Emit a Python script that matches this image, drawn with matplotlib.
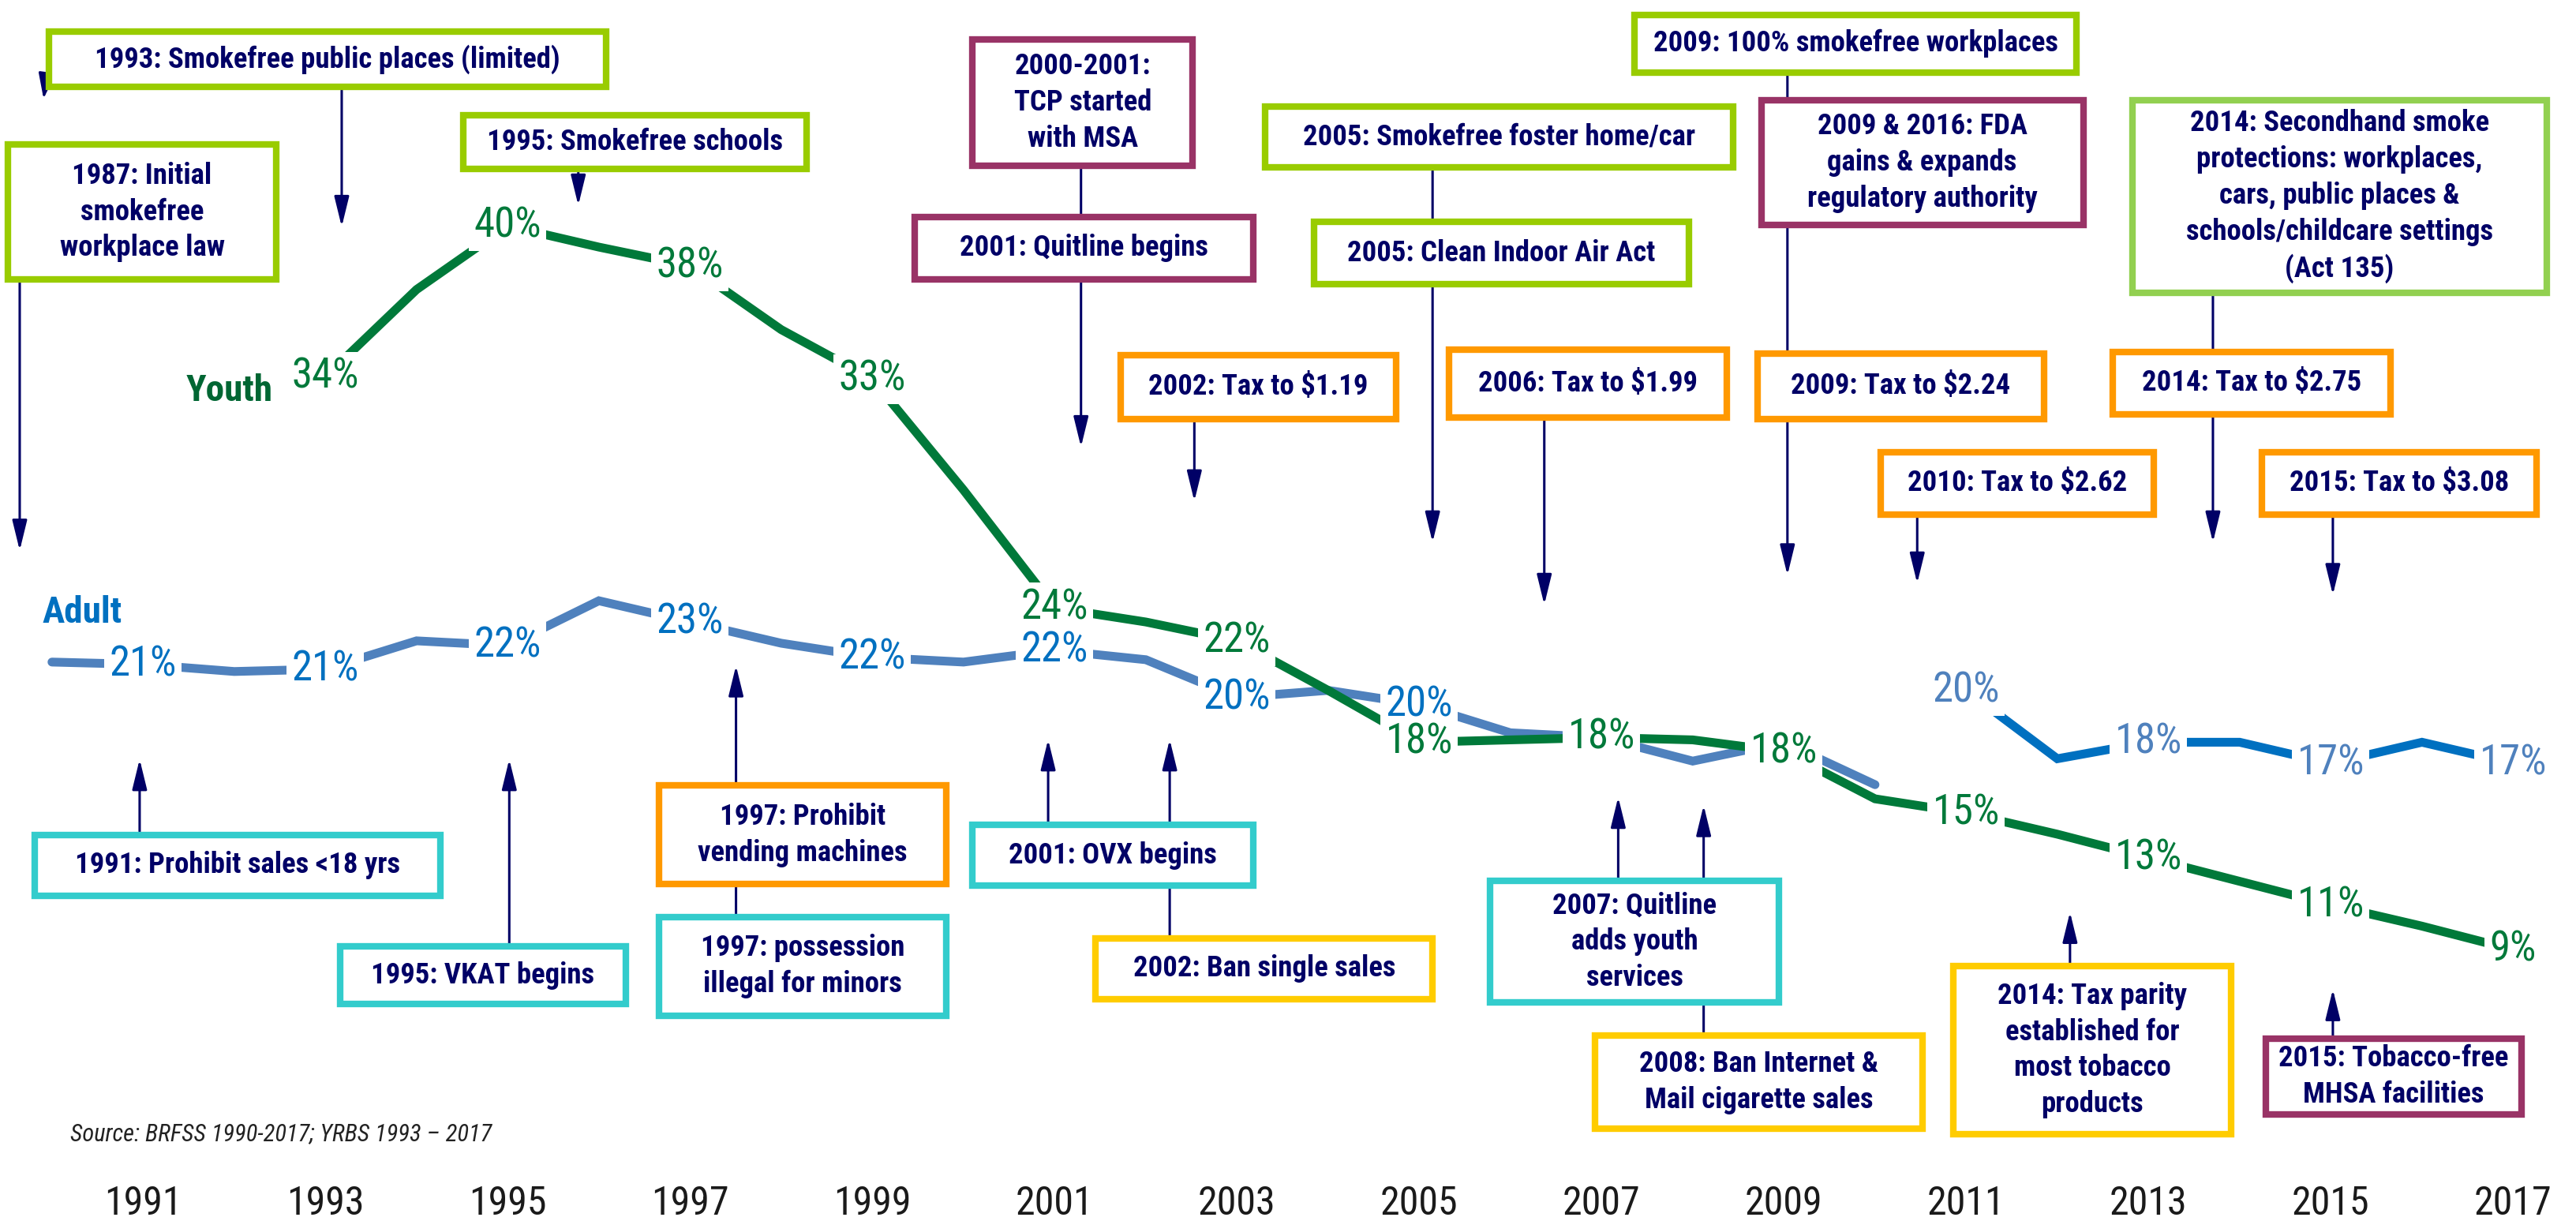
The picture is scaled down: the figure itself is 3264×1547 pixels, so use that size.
import matplotlib.pyplot as plt
from matplotlib.patches import Rectangle

# ---- data (percent of people who smoke) ---------------------------------
adult_years = list(range(1990, 2011))
adult_pct = [21.2, 21.1, 20.8, 20.9, 22.1, 21.9, 23.8, 22.9, 22.0, 21.4,
             21.2, 21.7, 21.3, 19.7, 20.0, 19.4, 18.2, 18.0, 17.0, 17.8, 16.0]
adult_new_years = list(range(2011, 2018))
adult_new_pct = [20.0, 17.1, 17.8, 17.8, 16.9, 17.8, 16.9]
youth_years = list(range(1993, 2018))
youth_pct = [33.3, 37.0, 39.7, 38.8, 38.0, 35.3, 33.2, 28.5, 23.5, 22.9,
             22.1, 20.0, 17.8, 17.9, 18.0, 17.9, 17.4, 15.4, 14.8, 13.9,
             12.9, 11.9, 10.9, 10.0, 9.0]

youth_label_years = list(range(1993, 2018, 2))
youth_labels = ['34%', '40%', '38%', '33%', '24%', '22%', '18%', '18%',
                '18%', '15%', '13%', '11%', '9%']
adult_label_years = list(range(1991, 2006, 2))
adult_labels = ['21%', '21%', '22%', '23%', '22%', '22%', '20%', '20%']
adult_new_label_years = [2011, 2013, 2015, 2017]
adult_new_labels = ['20%', '18%', '17%', '17%']
tick_years = list(range(1991, 2018, 2))

# ---- policy boxes, laid out on the reference's 1568x743 grid -------------
W, H = 1568, 743
boxes = [
    ("1993: Smokefree public places (limited)", 'lime', (28, 17, 371, 55)),
    ("1995: Smokefree schools", 'lime', (280, 68, 493, 105)),
    ("1987: Initial\nsmokefree\nworkplace law", 'lime', (3, 86, 170, 172)),
    ("2000-2001:\nTCP started\nwith MSA", 'plum', (590, 22, 728, 103)),
    ("2001: Quitline begins", 'plum', (555, 130, 765, 172)),
    ("2005: Smokefree foster home/car", 'lime', (768, 63, 1057, 104)),
    ("2005: Clean Indoor Air Act", 'lime', (798, 133, 1030, 175)),
    ("2009: 100% smokefree workplaces", 'lime', (993, 7, 1266, 46)),
    ("2009 & 2016: FDA\ngains & expands\nregulatory authority", 'plum', (1070, 59, 1270, 139)),
    ("2014: Secondhand smoke\nprotections: workplaces,\ncars, public places &\n"
     "schools/childcare settings\n(Act 135)", 'green2', (1296, 59, 1552, 180)),
    (r"2002: Tax to \$1.19", 'orange', (680, 214, 852, 257)),
    (r"2006: Tax to \$1.99", 'orange', (880, 211, 1053, 256)),
    (r"2009: Tax to \$2.24", 'orange', (1068, 213, 1246, 257)),
    (r"2010: Tax to \$2.62", 'orange', (1143, 273, 1313, 315)),
    (r"2014: Tax to \$2.75", 'orange', (1284, 212, 1457, 254)),
    (r"2015: Tax to \$3.08", 'orange', (1375, 273, 1546, 315)),
    ("1991: Prohibit sales <18 yrs", 'cyan', (19, 506, 270, 547)),
    ("1995: VKAT begins", 'cyan', (205, 574, 383, 613)),
    ("1997: Prohibit\nvending machines", 'orange', (399, 476, 578, 540)),
    ("1997: possession\nillegal for minors", 'cyan', (399, 556, 578, 620)),
    ("2001: OVX begins", 'cyan', (590, 500, 765, 541)),
    ("2002: Ban single sales", 'yellow', (665, 569, 874, 610)),
    ("2007: Quitline\nadds youth\nservices", 'cyan', (905, 534, 1085, 612)),
    ("2008: Ban Internet &\nMail cigarette sales", 'yellow', (969, 628, 1172, 689)),
    ("2014: Tax parity\nestablished for\nmost tobacco\nproducts", 'yellow', (1187, 586, 1360, 692)),
    ("2015: Tobacco-free\nMHSA facilities", 'plum', (1377, 630, 1537, 680)),
]
# x, y where the line starts, y of the arrow head
arrows = [
    (208, 55, 138), (352, 105, 125), (12, 172, 335), (658, 103, 272),
    (872, 104, 330), (1088, 46, 350), (1347, 180, 330), (727, 257, 305),
    (940, 256, 368), (1167, 315, 355), (1420, 315, 362),
    (85, 506, 462), (310, 574, 462), (448, 556, 405), (638, 500, 450),
    (712, 569, 450), (985, 534, 485), (1037, 628, 490), (1260, 586, 555),
    (1420, 630, 602),
]

edge_colors = {'lime': '#99CC00', 'green2': '#92D050', 'plum': '#993366',
               'orange': '#FF9900', 'cyan': '#33CCCC', 'yellow': '#FFCC00'}
navy = '#000066'
youth_green = '#00793A'
adult_blue = '#4F81BD'
adult_dark = '#0070C0'

narrow = ['Roboto Condensed', 'Liberation Sans Narrow', 'Roboto', 'DejaVu Sans']
plt.rcParams['font.family'] = narrow

fig = plt.figure(figsize=(32.64, 15.47), dpi=100)
ax = fig.add_axes([0, 0.0368, 1, 0.9632])
ax.set_xlim(1989.43, 2017.69)
ax.set_ylim(-0.6, 49.28)
for s in ax.spines.values():
    s.set_visible(False)
ax.set_yticks([])
ax.set_xticks(tick_years)
ax.set_xticklabels([str(y) for y in tick_years])
ax.tick_params(axis='x', length=0, pad=8, labelsize=36, labelcolor='#1a1a1a')


def fx(x):
    return x / W


def fy(y):
    return 1 - y / H


# lines
ax.plot(adult_years, adult_pct, color=adult_blue, lw=8,
        solid_capstyle='round', solid_joinstyle='miter', zorder=2)
ax.plot(adult_new_years, adult_new_pct, color=adult_dark, lw=8,
        solid_capstyle='butt', solid_joinstyle='miter', zorder=2)
ax.plot(youth_years, youth_pct, color=youth_green, lw=8,
        solid_capstyle='butt', solid_joinstyle='miter', zorder=2.5)


def point_labels(years, values, lab_years, labels, color):
    # a white box under each label cuts the lines; the label itself sits on top
    lookup = dict(zip(years, values))
    for yr, txt in zip(lab_years, labels):
        ax.text(yr, lookup[yr], txt, ha='center', va='center', fontsize=38,
                color='white', zorder=2.8,
                bbox=dict(boxstyle='square,pad=0.12', fc='white', ec='none'))
        ax.text(yr, lookup[yr], txt, ha='center', va='center', fontsize=38,
                color=color, zorder=3)


point_labels(adult_years, adult_pct, adult_label_years, adult_labels, adult_dark)
point_labels(adult_new_years, adult_new_pct, adult_new_label_years,
             adult_new_labels, adult_blue)
point_labels(youth_years, youth_pct, youth_label_years, youth_labels, youth_green)

ax.text(1991.95, 32.7, 'Youth', ha='center', va='center', fontsize=34,
        fontweight='bold', color='#006633', zorder=4)
ax.text(1990.33, 23.3, 'Adult', ha='center', va='center', fontsize=34,
        fontweight='bold', color=adult_dark)
ax.text(1990.2, 1.2, 'Source: BRFSS 1990-2017; YRBS 1993 \u2013 2017', ha='left',
        va='center', fontsize=22, style='italic', color='#222222')

# arrows
head = '-|>,head_length=0.9,head_width=0.22'
for x, y0, y1 in arrows:
    ax.annotate('', xy=(fx(x), fy(y1)), xytext=(fx(x), fy(y0)),
                xycoords='figure fraction', textcoords='figure fraction',
                arrowprops=dict(arrowstyle=head, color=navy, lw=2.2,
                                shrinkA=0, shrinkB=0, mutation_scale=26), zorder=4)
ax.annotate('', xy=(fx(26.5), fy(60)), xytext=(fx(28), fy(49)),
            xycoords='figure fraction', textcoords='figure fraction',
            arrowprops=dict(arrowstyle='-|>,head_length=0.9,head_width=0.3',
                            color=navy, lw=2.2, shrinkA=0, shrinkB=0,
                            mutation_scale=22), zorder=4)

# boxes
inset = 2
for txt, key, (x0, y0, x1, y1) in boxes:
    ax.add_patch(Rectangle((fx(x0 + inset), fy(y1 - inset)),
                           fx(x1 - x0 - 2 * inset), (y1 - y0 - 2 * inset) / H,
                           transform=fig.transFigure, fc='white',
                           ec=edge_colors[key], lw=6, clip_on=False, zorder=6))
    ax.text(fx((x0 + x1) / 2), fy((y0 + y1) / 2), txt, transform=fig.transFigure,
            ha='center', va='center', fontsize=26.5, fontweight='bold', color=navy,
            linespacing=1.35, zorder=7)

fig.savefig('out.png', dpi=100)
